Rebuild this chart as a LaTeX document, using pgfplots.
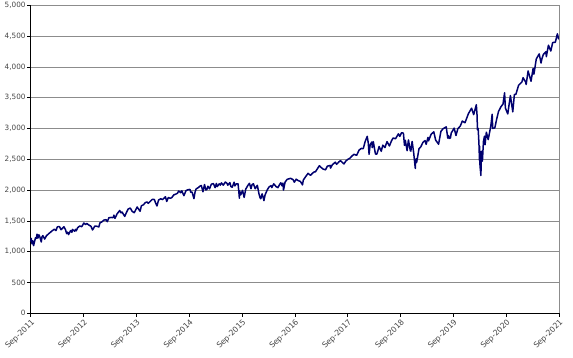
\documentclass[border=0pt]{standalone}
\usepackage{pgfplots}
\pgfplotsset{compat=1.18}
\usepackage{fontspec}
\setmainfont{DejaVu Sans}
\definecolor{navyline}{RGB}{0,0,110}
\definecolor{gridgray}{RGB}{140,140,140}
\definecolor{lblgray}{RGB}{70,70,70}
\begin{document}
\begin{tikzpicture}
\begin{axis}[
  at={(0,0)}, anchor=south west,
  scale only axis,
  width=528.3bp, height=308bp,
  xmin=2011.70, xmax=2021.70,
  ymin=0, ymax=5000,
  axis lines*=left,
  axis line style={black, line width=0.9bp},
  ytick={0,500,...,5000},
  xtick={2011.70,2012.70,2013.70,2014.70,2015.70,2016.70,2017.70,2018.70,2019.70,2020.70,2021.70},
  xticklabels={Sep-2011,Sep-2012,Sep-2013,Sep-2014,Sep-2015,Sep-2016,Sep-2017,Sep-2018,Sep-2019,Sep-2020,Sep-2021},
  x tick label style={rotate=45, anchor=north east, font=\fontsize{7.8}{8}\selectfont, text=lblgray, inner sep=1bp},
  y tick label style={font=\fontsize{7.3}{8}\selectfont, text=lblgray, inner sep=1.5bp},
  /pgf/number format/assume math mode=true,
  /pgf/number format/.cd, 1000 sep={,}, /pgfplots/.cd,
  ymajorgrids,
  major grid style={gridgray, line width=0.8bp},
  tick align=outside,
  major tick length=3.5bp,
  tick style={black, line width=0.7bp},
  clip=false,
]
\addplot[navyline, line width=1.5bp, line join=round] coordinates {
(2011.700,1162) (2011.710,1216) (2011.725,1129) (2011.740,1175) (2011.755,1099) (2011.770,1155)
(2011.790,1224) (2011.805,1215) (2011.820,1284) (2011.835,1219) (2011.855,1275) (2011.875,1236)
(2011.900,1158) (2011.915,1244) (2011.930,1261) (2011.965,1205) (2011.997,1257)
(2012.036,1289) (2012.074,1316) (2012.110,1342) (2012.148,1365) (2012.178,1343) (2012.205,1404)
(2012.244,1408) (2012.274,1358) (2012.300,1378) (2012.330,1405) (2012.360,1353) (2012.380,1295)
(2012.400,1317) (2012.416,1278) (2012.455,1343) (2012.480,1314) (2012.490,1362) (2012.530,1334)
(2012.550,1362) (2012.560,1338) (2012.590,1391) (2012.630,1418) (2012.666,1406) (2012.705,1465)
(2012.740,1441) (2012.760,1460) (2012.800,1433) (2012.840,1414) (2012.870,1353) (2012.915,1416)
(2012.950,1413) (2012.990,1402)
(2013.010,1466) (2013.050,1486) (2013.085,1513) (2013.125,1520) (2013.150,1488) (2013.180,1551)
(2013.220,1556) (2013.260,1553) (2013.275,1593) (2013.295,1541) (2013.335,1614) (2013.385,1669)
(2013.410,1631) (2013.430,1643) (2013.480,1573) (2013.510,1632) (2013.545,1692) (2013.585,1709)
(2013.620,1656) (2013.660,1633) (2013.715,1726) (2013.770,1656) (2013.795,1745) (2013.835,1762)
(2013.870,1798) (2013.905,1807) (2013.925,1785) (2013.965,1818) (2013.998,1848)
(2014.040,1848) (2014.065,1790) (2014.090,1742) (2014.120,1838) (2014.160,1859) (2014.195,1846)
(2014.220,1866) (2014.250,1891) (2014.275,1816) (2014.305,1879) (2014.345,1867) (2014.370,1878)
(2014.410,1924) (2014.450,1936) (2014.480,1950) (2014.500,1985) (2014.540,1958) (2014.560,1988)
(2014.600,1910) (2014.640,1992) (2014.680,2007) (2014.715,2011) (2014.730,1965) (2014.755,1967)
(2014.790,1862) (2014.810,1964) (2014.830,2018) (2014.870,2039) (2014.910,2068) (2014.930,2075)
(2014.960,1973) (2014.990,2090)
(2015.015,2003) (2015.035,2011) (2015.055,2063) (2015.085,2021) (2015.120,2097) (2015.160,2105)
(2015.190,2040) (2015.215,2108) (2015.230,2057) (2015.270,2102) (2015.290,2081) (2015.310,2117)
(2015.345,2080) (2015.385,2131) (2015.415,2111) (2015.430,2079) (2015.470,2122) (2015.490,2058)
(2015.515,2047) (2015.550,2128) (2015.565,2068) (2015.590,2100) (2015.625,2102) (2015.640,1971)
(2015.650,1868) (2015.655,1989) (2015.675,1921) (2015.710,1996) (2015.740,1882) (2015.770,2015)
(2015.810,2075) (2015.840,2110) (2015.870,2023) (2015.890,2089) (2015.915,2103) (2015.950,2022)
(2015.990,2078)
(2016.020,1943) (2016.040,1880) (2016.055,1859) (2016.080,1940) (2016.100,1880) (2016.115,1829)
(2016.135,1918) (2016.175,1999) (2016.210,2050) (2016.250,2073) (2016.265,2041) (2016.300,2102)
(2016.345,2057) (2016.380,2040) (2016.415,2097) (2016.435,2119) (2016.455,2071) (2016.475,2113)
(2016.485,2001) (2016.515,2130) (2016.555,2175) (2016.620,2191) (2016.665,2171) (2016.690,2128)
(2016.725,2177) (2016.765,2153) (2016.805,2141) (2016.845,2085) (2016.860,2163) (2016.900,2213)
(2016.950,2272) (2016.997,2239)
(2017.035,2275) (2017.070,2297) (2017.090,2297) (2017.130,2351) (2017.165,2396) (2017.190,2373)
(2017.235,2341) (2017.280,2329) (2017.315,2389) (2017.370,2400) (2017.375,2357) (2017.410,2412)
(2017.465,2453) (2017.490,2419) (2017.535,2459) (2017.565,2478) (2017.610,2438) (2017.630,2426)
(2017.665,2472) (2017.705,2500) (2017.745,2519) (2017.780,2553) (2017.820,2581) (2017.870,2565)
(2017.915,2648) (2017.955,2676) (2017.995,2674)
(2018.030,2786) (2018.070,2873) (2018.090,2762) (2018.105,2581) (2018.125,2732) (2018.155,2780)
(2018.165,2691) (2018.185,2786) (2018.225,2588) (2018.250,2582) (2018.260,2604) (2018.295,2708)
(2018.335,2630) (2018.365,2730) (2018.405,2690) (2018.445,2787) (2018.490,2716) (2018.530,2801)
(2018.560,2846) (2018.605,2833) (2018.660,2914) (2018.685,2872) (2018.720,2931) (2018.755,2925)
(2018.775,2728) (2018.790,2809) (2018.825,2641) (2018.850,2814) (2018.885,2642) (2018.895,2633)
(2018.920,2790) (2018.950,2600) (2018.980,2351) (2018.985,2467) (2018.998,2507)
(2019.005,2448) (2019.050,2671) (2019.085,2704) (2019.125,2776) (2019.165,2804) (2019.185,2743)
(2019.220,2855) (2019.230,2799) (2019.280,2907) (2019.330,2946) (2019.365,2812) (2019.415,2752)
(2019.420,2744) (2019.465,2954) (2019.505,2996) (2019.565,3026) (2019.595,2844) (2019.610,2883)
(2019.620,2840) (2019.645,2847) (2019.660,2926) (2019.715,3006) (2019.750,2887) (2019.785,2996)
(2019.830,3038) (2019.870,3120) (2019.920,3093) (2019.985,3240)
(2020.045,3330) (2020.085,3226) (2020.135,3386) (2020.148,3226) (2020.157,2979) (2020.170,3003)
(2020.185,2747) (2020.195,2481) (2020.198,2711) (2020.205,2386) (2020.215,2305) (2020.222,2237)
(2020.230,2630) (2020.250,2471) (2020.270,2790) (2020.290,2875) (2020.300,2737) (2020.325,2940)
(2020.360,2820) (2020.410,3044) (2020.435,3232) (2020.445,3002) (2020.485,3009) (2020.520,3152)
(2020.555,3276) (2020.600,3351) (2020.640,3397) (2020.670,3580) (2020.685,3332) (2020.730,3237)
(2020.780,3535) (2020.825,3271) (2020.855,3550) (2020.885,3558) (2020.935,3702) (2020.998,3756)
(2021.020,3825) (2021.070,3751) (2021.078,3714) (2021.115,3934) (2021.150,3829) (2021.170,3768)
(2021.210,3975) (2021.225,3881) (2021.270,4129) (2021.325,4211) (2021.360,4063) (2021.375,4128)
(2021.405,4204) (2021.455,4246) (2021.460,4166) (2021.500,4352) (2021.545,4258) (2021.580,4395)
(2021.630,4400) (2021.665,4523) (2021.670,4537) (2021.690,4459) (2021.700,4450)
};
\draw[gridgray, line width=0.8bp] (rel axis cs:1,0) -- (rel axis cs:1,1);
\end{axis}
\pgfresetboundingbox
\path (-30.7bp,-44.7bp) rectangle (542.3bp,313.3bp);
\end{tikzpicture}
\end{document}
